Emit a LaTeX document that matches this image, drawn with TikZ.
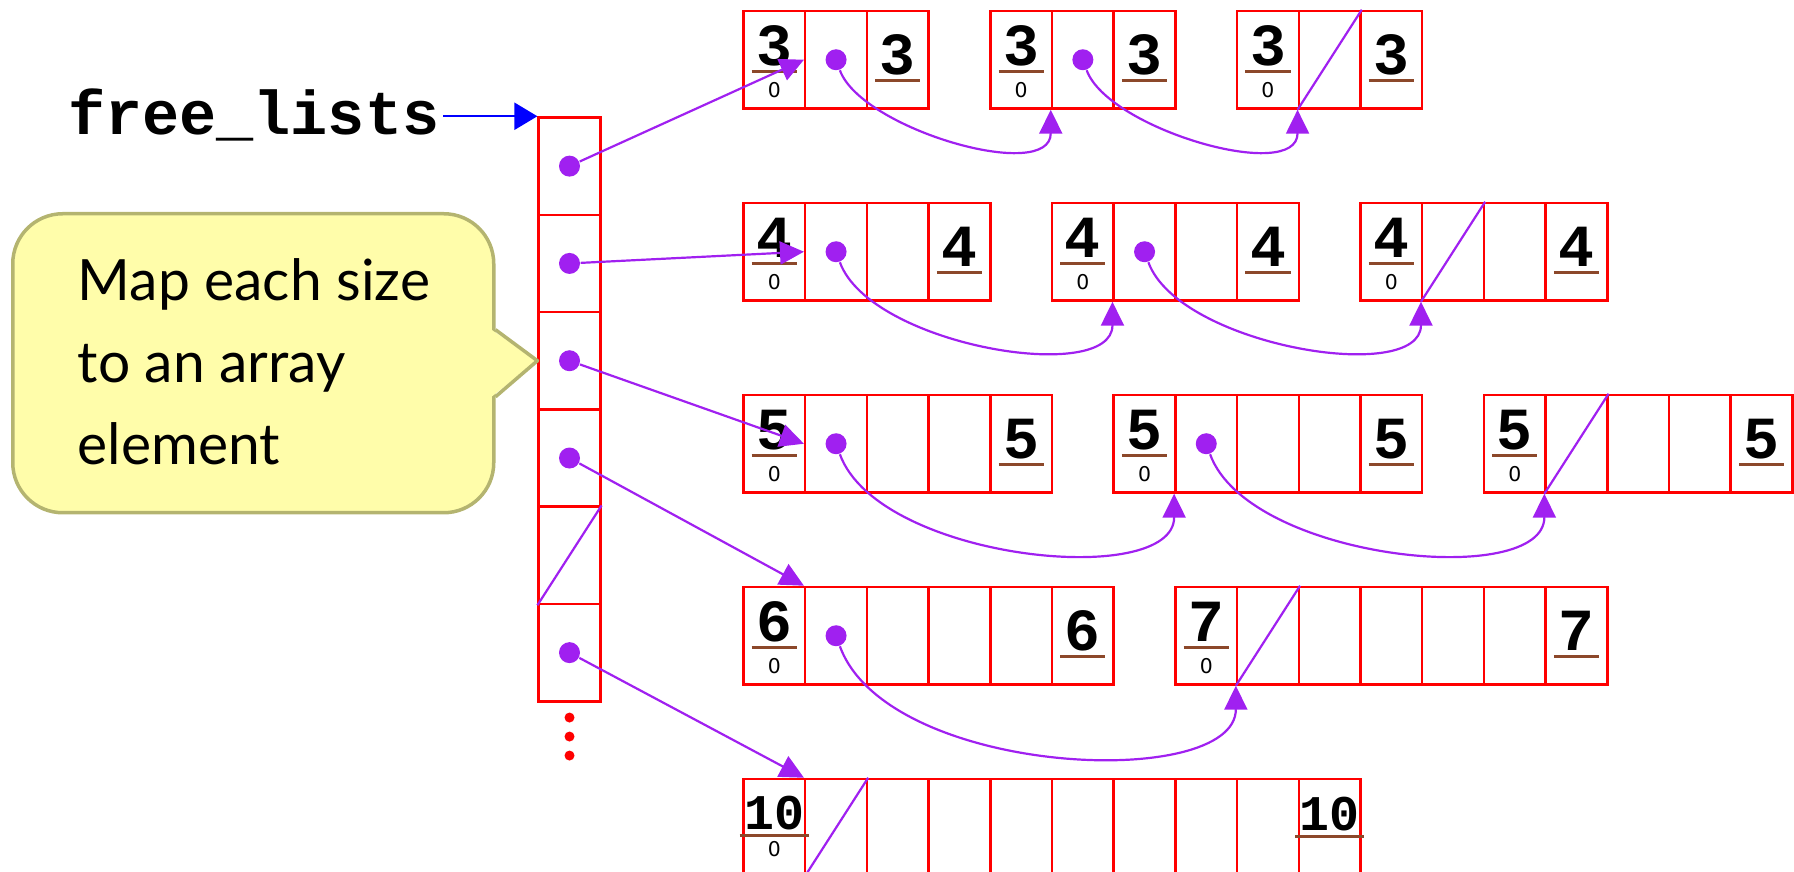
\documentclass[tikz,border=0pt]{standalone}
\usepackage{fontspec}
\setmainfont{Lato}
\newfontfamily\codefont{Liberation Mono}
\newfontfamily\tagfont{DejaVu Sans}
\usetikzlibrary{arrows.meta,calc,positioning}
\definecolor{ptrpurple}{RGB}{160,32,240}
\definecolor{cellred}{RGB}{255,0,0}
\definecolor{ulbrown}{RGB}{140,72,42}
\definecolor{notefill}{RGB}{255,253,170}
\definecolor{noteedge}{RGB}{180,180,112}
\tikzset{
  cell/.style  = {draw=cellred, line width=0.25mm, minimum width=6.17mm, minimum height=9.75mm,
                  inner sep=0pt},
  ptr/.style   = {circle, fill=ptrpurple, inner sep=0pt, minimum size=2.1mm},
  link/.style  = {ptrpurple, line width=0.22mm, -{Triangle[length=2.4mm,width=2.3mm]}},
  nullp/.style = {ptrpurple, line width=0.22mm},
  hdr/.style   = {font=\codefont\bfseries\fontsize{17}{17}\selectfont, inner sep=0pt, anchor=base},
  hdrs/.style  = {hdr, font=\codefont\bfseries\fontsize{14.2}{14.2}\selectfont},
  zero/.style  = {font=\tagfont\fontsize{5.8}{6}\selectfont, inner sep=0pt, anchor=base},
  uline/.style = {ulbrown, line width=0.25mm},
  bubble/.style= {draw=noteedge, fill=notefill, line width=0.35mm, rounded corners=5mm},
}
\newcommand\numline[1]{%
  \draw[uline] ([xshift=-0.4mm,yshift=-0.62mm]#1.base west) -- ([xshift=0.4mm,yshift=-0.62mm]#1.base east);}

\begin{document}
\begin{tikzpicture}[x=0.1mm,y=-0.1mm]
 \useasboundingbox (0,0) rectangle (1794,872);
 % the free list array
 \foreach \i in {1,...,6}
   \node[cell, minimum height=9.73mm] (fl-\i) at (569.5,{117.5+(\i-0.5)*97.3}) {};
 \foreach \i in {1,2,3,4,6}
   \node[ptr] (fl-\i-p) at (fl-\i) {};
 \draw[nullp] (fl-5.south west) -- (fl-5.north east);
 \foreach \j in {0,1,2}
   \fill[cellred] ($(fl-6.south)+(0,15+\j*19)$) circle[radius=0.5mm];
 \node[font=\codefont\bfseries\fontsize{17.6}{18}\selectfont, anchor=base east, inner sep=0pt]
   (fl-lbl) at (440,135) {free\_lists};
 \draw[blue, line width=0.22mm, -{Triangle[length=2.3mm,width=2.7mm]}]
   ([xshift=0.3mm]fl-lbl.east |- fl-1.north west) -- (fl-1.north west);
 % blocks: name/offset/top/cells/size
 \foreach \nm/\k/\ty/\n/\lab in {s3a/0/11/3/3, s3b/4/11/3/3, s3c/8/11/3/3,
     s4a/0/203/4/4, s4b/5/203/4/4, s4c/10/203/4/4,
     s5a/0/395/5/5, s5b/6/395/5/5, s5c/12/395/5/5,
     s6a/0/587/6/6, s7a/7/587/7/7}{
   \foreach \i in {1,...,\n}
     \node[cell] (\nm-\i) at ({743.5+(\k+\i-0.5)*61.7},{\ty+48.75}) {};
   \node[hdr] (\nm-h) at ($(\nm-1.north)+(0,55.5)$) {\lab};
   \node[zero] (\nm-z) at ($(\nm-1.north)+(0,88)$) {0};
   \node[hdr] (\nm-t) at ($(\nm-\n.north)+(0,64.5)$) {\lab};
   \numline{\nm-h}
   \numline{\nm-t}
 }
 % size 10
 \foreach \i in {1,...,10}
   \node[cell] (s10a-\i) at ({743.5+(\i-0.5)*61.7},{779+48.75}) {};
 \node[hdrs] (s10a-h) at ($(s10a-1.north)+(0,51.5)$) {10};
 \node[zero] (s10a-z) at ($(s10a-1.north)+(0,79)$) {0};
 \node[hdrs] (s10a-t) at ($(s10a-10.north)+(0,52.5)$) {10};
 \numline{s10a-h}
 \numline{s10a-t}
 % pointers
 \foreach \nm in {s3a,s3b,s4a,s4b,s5a,s5b,s6a}
   \node[ptr] (\nm-p) at (\nm-2) {};
 \foreach \nm in {s3c,s4c,s5c,s7a,s10a}
   \draw[nullp] (\nm-2.south west) -- (\nm-2.north east);
 \foreach \a/\b/\ca/\cb in {s3a/s3b/74/74, s3b/s3c/74/74, s4a/s4b/100/84, s4b/s4c/100/84,
     s5a/s5b/124/96, s5b/s5c/124/96, s6a/s7a/150/106}
   \draw[link] (\a-p) .. controls +({0.342*\ca},{0.94*\ca}) and +(0,\cb) .. (\b-2.south west);
 \draw[link] (fl-1-p) -- (s3a-2.west);
 \draw[link] (fl-2-p) -- (s4a-2.west);
 \draw[link] (fl-3-p) -- (s5a-2.west);
 \draw[link] (fl-4-p) -- (s6a-2.north west);
 \draw[link] (fl-6-p) -- (s10a-2.north west);
 % callout
 \node[bubble, anchor=north west, minimum width=48.1mm, minimum height=29.9mm] (note) at (11,212) {};
 \fill[notefill] ([xshift=-0.4mm,yshift=3.35mm]note.east) -- (fl-3.west)
   -- ([xshift=-0.4mm,yshift=-3.35mm]note.east) -- cycle;
 \draw[noteedge, line width=0.35mm, line join=round]
   ([yshift=3.35mm]note.east) -- (fl-3.west) -- ([yshift=-3.35mm]note.east);
 \node[anchor=base west, align=left, inner sep=0pt, font=\fontsize{16.2}{23.4}\selectfont]
   (note-txt) at (77,465) {Map each size\\to an array\\element};
\end{tikzpicture}
\end{document}
